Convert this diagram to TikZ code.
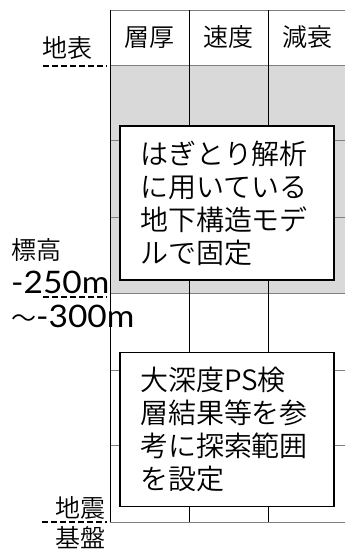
\documentclass[tikz,border=0pt]{standalone}
\usepackage{fontspec}
\setmainfont{Noto Sans CJK JP}[UprightFont=* DemiLight]
\newfontfamily\numfont{Lato}[FakeStretch=1.08]
\usetikzlibrary{positioning}
\tikzset{rowline/.style={gray,line width=0.8pt}, colline/.style={black,line width=0.8pt},
  level/.style={black,line width=2pt,dash pattern=on 6pt off 3pt},
  notebox/.style={draw=black,line width=1.8pt,fill=white,minimum width=214pt,minimum height=154pt,
    text width=174pt,inner xsep=20pt,align=left,font=\fontsize{28}{33}\selectfont},
  head/.style={font=\fontsize{25}{25}\selectfont},
  side/.style={font=\fontsize{25}{25}\selectfont,inner sep=0pt}}

\begin{document}
\begin{tikzpicture}[x=1pt,y=-1pt]
   \useasboundingbox (0,0) rectangle (345,550);
   % table
   \fill[black!15] (110,65) rectangle (345,293);
   \foreach \y in {10,65,140,217,293,370,445,522}
     \draw[rowline] (110,\y) -- (345,\y);
   \foreach \x in {110,189,268}
     \draw[colline] (\x,10) -- (\x,522);
   \node[head] (thick) at (149.5,37.5) {層厚};
   \node[head] (speed) at (228.5,37.5) {速度};
   \node[head] (damp)  at (307.5,37.5) {減衰};
   % notes
   \node[notebox] (fixed)  at (227,203)   {はぎとり解析\\に用いている\\地下構造モデ\\ルで固定};
   \node[notebox] (search) at (227,429.5) {大深度PS検\\層結果等を参\\考に探索範囲\\を設定};
   % depth labels
   \node[side] (surface) at (67.5,48) {地表};
   \node[side,anchor=west] (elev) at (11,250) {標高};
   \node[side,anchor=west] (upper) at (11,282) {\numfont\fontsize{31}{31}\selectfont -250m};
   \node[side,anchor=west] (lower) at (11,316) {〜\numfont\fontsize{31}{31}\selectfont -300m};
   \node[side] (quake) at (81,508) {地震};
   \node[side] (base)  at (81,538) {基盤};
   \coordinate (s1) at (43,66);  \coordinate (s2) at (107,66);
   \coordinate (m1) at (43,297); \coordinate (m2) at (107,297);
   \coordinate (b1) at (42,522); \coordinate (b2) at (107,522);
   \draw[level] (s1) -- (s2);
   \draw[level] (m1) -- (m2);
   \draw[level] (b1) -- (b2);
\end{tikzpicture}
\end{document}
